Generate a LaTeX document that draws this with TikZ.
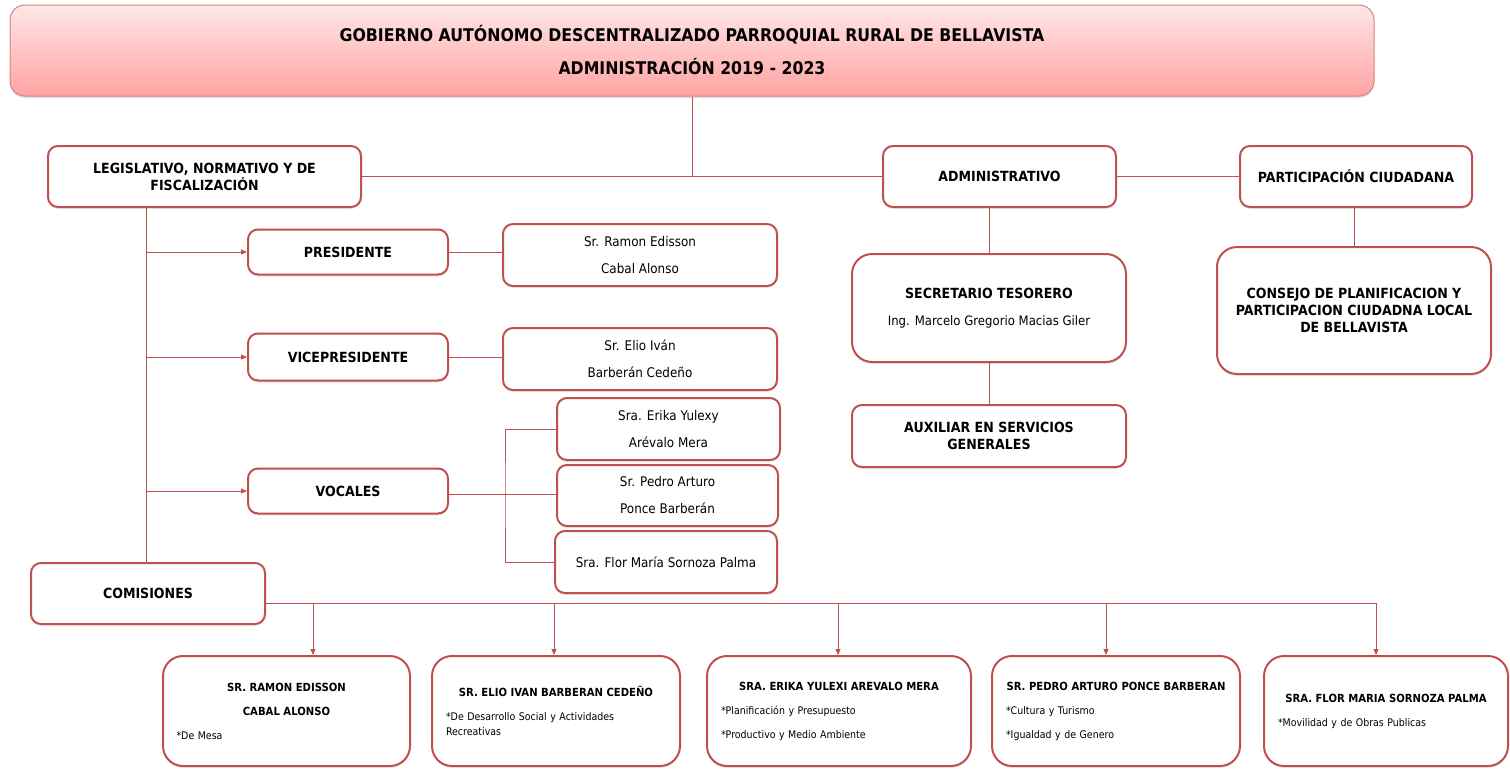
\documentclass[tikz,border=0pt]{standalone}
\usepackage{fontspec}
\setmainfont{DejaVu Sans}[FakeStretch=0.9]
\usetikzlibrary{arrows.meta,shadows}

\definecolor{redline}{HTML}{C0504D}
\definecolor{titletop}{HTML}{FFE6E6}
\definecolor{titlebot}{HTML}{FFA3A3}

\tikzset{
  box/.style={draw=redline, line width=2pt, fill=white, rounded corners=10pt,
    inner sep=0pt, align=center, font=\bfseries\fontsize{14}{17}\selectfont,
    drop shadow={opacity=0.18, shadow xshift=0pt, shadow yshift=-2pt}},
  bigbox/.style={box, rounded corners=20pt},
  namebox/.style={box, font=\fontsize{13.3}{27}\selectfont},
  combox/.style={bigbox, align=left, font=\fontsize{10.5}{15}\selectfont},
  link/.style={draw=redline, line width=0.9pt},
  arr/.style={link, -{Triangle[length=6pt,width=5pt]}},
}

\begin{document}
\begin{tikzpicture}[x=1pt,y=-1pt]

        \useasboundingbox (0,0) rectangle (1510,769);

        \node[draw=redline!70, line width=1pt, rounded corners=15pt, top color=titletop, bottom color=titlebot,
              minimum width=1364pt, minimum height=91pt, align=center, font=\bfseries\fontsize{17.5}{33}\selectfont,
              drop shadow={opacity=0.25, shadow xshift=0pt, shadow yshift=-2pt}] (1) at (692,50.5)
              {GOBIERNO AUTÓNOMO DESCENTRALIZADO PARROQUIAL RURAL DE BELLAVISTA\\ADMINISTRACIÓN 2019 - 2023};

        \begin{scope}[every node/.style={box}]
          \node[minimum width=313pt, minimum height=61pt] (2)  at (204.5,176.5) {LEGISLATIVO, NORMATIVO Y DE\\FISCALIZACIÓN};
          \node[minimum width=233pt, minimum height=61pt] (3)  at (999.5,176.5) {ADMINISTRATIVO};
          \node[minimum width=232pt, minimum height=61pt] (4)  at (1356,176.5)  {PARTICIPACIÓN CIUDADANA};
          \node[minimum width=200pt, minimum height=45pt] (5)  at (348,252)     {PRESIDENTE};
          \node[minimum width=200pt, minimum height=47pt] (7)  at (348,357)     {VICEPRESIDENTE};
          \node[minimum width=200pt, minimum height=45pt] (9)  at (348,491)     {VOCALES};
          \node[minimum width=234pt, minimum height=61pt] (13) at (148,593.5)   {COMISIONES};
          \node[minimum width=274pt, minimum height=62pt] (20) at (989,436)     {AUXILIAR EN SERVICIOS\\GENERALES};
        \end{scope}

        \begin{scope}[every node/.style={namebox}]
          \node[minimum width=274pt, minimum height=62pt] (6)  at (640,255)   {Sr. Ramon Edisson\\Cabal Alonso};
          \node[minimum width=274pt, minimum height=62pt] (8)  at (640,359)   {Sr. Elio Iván\\Barberán Cedeño};
          \node[minimum width=223pt, minimum height=62pt] (10) at (668.5,429) {Sra. Erika Yulexy\\Arévalo Mera};
          \node[minimum width=221pt, minimum height=61pt] (11) at (667.5,495.5) {Sr. Pedro Arturo\\Ponce Barberán};
          \node[minimum width=222pt, minimum height=62pt] (12) at (666,562)   {Sra. Flor María Sornoza Palma};
        \end{scope}

        \begin{scope}[every node/.style={bigbox}]
          \node[minimum width=274pt, minimum height=108pt] (19) at (989,308)
            {SECRETARIO TESORERO\\[10pt]{\mdseries\fontsize{13}{17}\selectfont Ing. Marcelo Gregorio Macias Giler}};
          \node[minimum width=274pt, minimum height=127pt] (21) at (1354,310.5)
            {CONSEJO DE PLANIFICACION Y\\PARTICIPACION CIUDADNA LOCAL\\DE BELLAVISTA};
        \end{scope}

        \begin{scope}[every node/.style={combox}]
          \node[minimum width=247pt, minimum height=110pt, text width=220pt] (14) at (286.5,711)
            {{\centering\bfseries\fontsize{11.2}{15}\selectfont SR. RAMON EDISSON\\[9pt]CABAL ALONSO\par}\vspace{9pt}*De Mesa};
          \node[minimum width=248pt, minimum height=110pt, text width=220pt] (15) at (556,711)
            {{\centering\bfseries\fontsize{11.2}{15}\selectfont SR. ELIO IVAN BARBERAN CEDEÑO\par}\vspace{9pt}*De Desarrollo Social y Actividades\\Recreativas};
          \node[minimum width=264pt, minimum height=110pt, text width=236pt] (16) at (839,711)
            {{\centering\bfseries\fontsize{11.2}{15}\selectfont SRA. ERIKA YULEXI AREVALO MERA\par}\vspace{9pt}*Planificación y Presupuesto\\[9pt]*Productivo y Medio Ambiente};
          \node[minimum width=248pt, minimum height=110pt, text width=220pt] (17) at (1116,711)
            {{\centering\bfseries\fontsize{11.2}{15}\selectfont SR. PEDRO ARTURO PONCE BARBERAN\par}\vspace{9pt}*Cultura y Turismo\\[9pt]*Igualdad y de Genero};
          \node[minimum width=244pt, minimum height=110pt, text width=216pt] (18) at (1386,711)
            {{\centering\bfseries\fontsize{11.2}{15}\selectfont SRA. FLOR MARIA SORNOZA PALMA\par}\vspace{9pt}*Movilidad y de Obras Publicas};
        \end{scope}

        \coordinate (t) at (146,207);
        \coordinate (v) at (505,494);
        \coordinate (b) at (1376,603);

        \begin{scope}[every path/.style={link}]
          \path (1)  edge (1 |- 2);
          \path (2)  edge (3);
          \path (3)  edge (4);
          \path (t)  edge (t |- 13.north);
          \path (5.east) edge (5.east -| 6.west);
          \path (7.east) edge (7.east -| 8.west);
          \path (9.east |- v) edge (v);
          \path (11.west |- v) edge (v);
          \draw (10.west) -| (v) |- (12.west);
          \path (3.south -| 19.north) edge (19.north);
          \path (19) edge (20);
          \path (4.south -| 21.north) edge (21.north);
          \path (13.east |- b) edge (b);
        \end{scope}

        \draw[arr] (t |- 5) -- (5.west);
        \draw[arr] (t |- 7) -- (7.west);
        \draw[arr] (t |- 9) -- (9.west);

        \foreach \x/\n in {313/14,554/15,838/16,1106/17,1376/18} {
          \coordinate (c\n) at (\x,603);
          \draw[arr] (c\n) -- (c\n |- \n.north);
        }

      \end{tikzpicture}
\end{document}
